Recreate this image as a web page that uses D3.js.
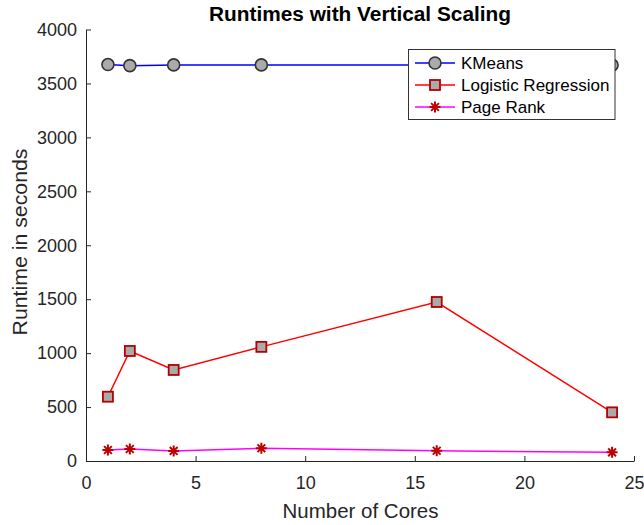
<!DOCTYPE html>
<html><head><meta charset="utf-8">
<script src="https://cdn.jsdelivr.net/npm/d3@7"></script>
<style>body{margin:0;background:#fff;} svg{display:block;font-family:"Liberation Sans",Arial,sans-serif;}</style>
</head><body>
<svg id="c" width="644" height="525"></svg>
<script>
const cores = [1, 2, 4, 8, 16, 24];
const kmeans = [3675, 3665, 3672, 3672, 3670, 3670];
const logreg = [596, 1020, 844, 1058, 1474, 451];
const pagerank = [102, 111, 93, 118, 95, 80];
const seriesNames = ["KMeans", "Logistic Regression", "Page Rank"];
const xTicks = [0, 5, 10, 15, 20, 25];
const yTicks = [0, 500, 1000, 1500, 2000, 2500, 3000, 3500, 4000];

const svg = d3.select("#c");
const L = 86, R = 634, T = 29.5, B = 461;
const x = d3.scaleLinear().domain([0, 25]).range([L, R]);
const y = d3.scaleLinear().domain([0, 4000]).range([B, T]);
const axisCol = "#262626";

const gx = svg.append("g").attr("transform", `translate(0,${B})`)
  .call(d3.axisBottom(x).tickValues(xTicks).tickFormat(d3.format("d")).tickSizeInner(-5).tickSizeOuter(0).tickPadding(15));
const gy = svg.append("g").attr("transform", `translate(${L},0)`)
  .call(d3.axisLeft(y).tickValues(yTicks).tickFormat(d3.format("d")).tickSizeInner(-5).tickSizeOuter(0).tickPadding(9));
[gx, gy].forEach(g => {
  g.select(".domain").attr("stroke", axisCol).attr("stroke-width", 1);
  g.selectAll(".tick line").attr("stroke", axisCol);
  g.selectAll(".tick text").attr("fill", axisCol).style("font-size", "18px").style("font-family", "Liberation Sans, Arial, sans-serif");
});

const series = [
  {name: seriesNames[0], vals: kmeans, color: "#0000ff", marker: "circle"},
  {name: seriesNames[1], vals: logreg, color: "#ff0000", marker: "square"},
  {name: seriesNames[2], vals: pagerank, color: "#ff00ff", marker: "star"}
];

function drawMarker(g, type, cx, cy) {
  if (type === "circle") {
    g.append("circle").attr("cx", cx).attr("cy", cy).attr("r", 6)
      .attr("fill", "#aaaaaa").attr("stroke", "#333").attr("stroke-width", 1.6);
  } else if (type === "square") {
    g.append("rect").attr("x", cx - 5).attr("y", cy - 5).attr("width", 10).attr("height", 10)
      .attr("fill", "#aaaaaa").attr("stroke", "#b30000").attr("stroke-width", 1.8);
  } else {
    const s = 5.5, d = s * 0.707;
    const p = `M${cx - s},${cy}L${cx + s},${cy}M${cx},${cy - s}L${cx},${cy + s}M${cx - d},${cy - d}L${cx + d},${cy + d}M${cx - d},${cy + d}L${cx + d},${cy - d}`;
    g.append("path").attr("d", p).attr("stroke", "#c00000").attr("stroke-width", 2).attr("fill", "none");
  }
}

const line = d3.line().x((d, i) => x(cores[i])).y(d => y(d));
series.forEach(s => {
  const g = svg.append("g");
  g.append("path").datum(s.vals).attr("d", line).attr("fill", "none")
    .attr("stroke", s.color).attr("stroke-width", 1.5);
  s.vals.forEach((v, i) => drawMarker(g, s.marker, x(cores[i]), y(v)));
});

// legend
const lg = svg.append("g");
lg.append("rect").attr("x", 408.5).attr("y", 49.5).attr("width", 206.5).attr("height", 70)
  .attr("fill", "#fff").attr("stroke", "#333").attr("stroke-width", 1);
series.forEach((s, i) => {
  const cy = 63 + i * 22;
  lg.append("line").attr("x1", 415).attr("x2", 455).attr("y1", cy).attr("y2", cy)
    .attr("stroke", s.color).attr("stroke-width", 1.5);
  drawMarker(lg, s.marker, 435, cy);
  lg.append("text").attr("x", 461).attr("y", cy + 6).text(s.name)
    .style("font-size", "17px").attr("fill", "#000");
});

svg.append("text").attr("x", 360).attr("y", 21).attr("text-anchor", "middle")
  .attr("textLength", 302).attr("lengthAdjust", "spacingAndGlyphs")
  .style("font-size", "20px").style("font-weight", "bold").text("Runtimes with Vertical Scaling");
svg.append("text").attr("x", 360.5).attr("y", 518).attr("text-anchor", "middle")
  .attr("textLength", 156).attr("lengthAdjust", "spacingAndGlyphs")
  .style("font-size", "21px").attr("fill", axisCol).text("Number of Cores");
svg.append("text").attr("transform", `translate(27,242) rotate(-90)`).attr("text-anchor", "middle")
  .attr("textLength", 187).attr("lengthAdjust", "spacingAndGlyphs")
  .style("font-size", "21px").attr("fill", axisCol).text("Runtime in seconds");
</script>
</body></html>
